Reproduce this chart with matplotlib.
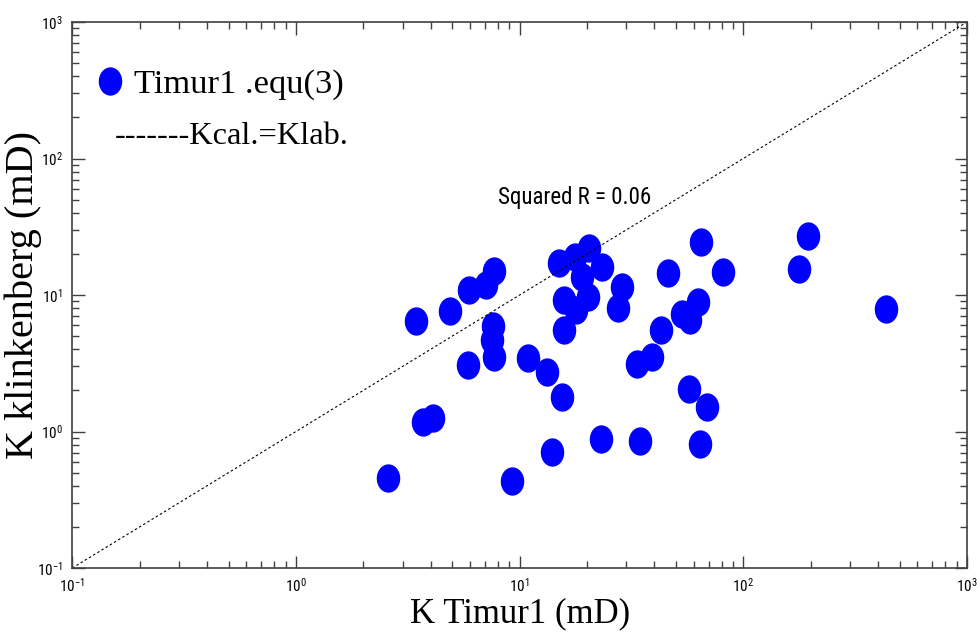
import matplotlib
matplotlib.use("Agg")
import matplotlib.pyplot as plt
from matplotlib.path import Path
from matplotlib.transforms import Affine2D
from matplotlib import font_manager
from matplotlib.font_manager import FontProperties

# Permeability: model estimate (x) vs. Klinkenberg-corrected lab value (y), mD
k_timur = [2.58, 3.44, 3.70, 4.10, 4.88, 5.87, 5.93, 7.07, 7.68, 7.60,
           7.52, 7.68, 9.24, 10.9, 13.2, 13.9, 15.0, 15.5, 15.8, 15.8,
           17.7, 19.0, 17.9, 20.2, 20.4, 23.3, 23.1, 27.5, 28.7, 33.4,
           34.5, 39.0, 42.8, 46.0, 53.2, 57.1, 57.7, 62.7, 64.0, 64.6,
           68.7, 81.1, 177.0, 194.0, 434.0]
k_klink = [0.46, 6.45, 1.17, 1.26, 7.63, 3.07, 10.9, 11.8, 15.0, 5.93,
           4.68, 3.51, 0.434, 3.45, 2.73, 0.708, 17.2, 1.79, 9.19, 5.54,
           19.0, 13.6, 7.77, 9.67, 22.1, 16.0, 0.881, 8.03, 11.4, 3.12,
           0.851, 3.51, 5.54, 14.5, 7.26, 2.05, 6.56, 8.89, 0.810, 24.4,
           1.51, 14.7, 15.5, 27.1, 7.89]
axis_range = [0.1, 1000.0]
r_squared = 0.06


def pick_narrow_font():
    """Return a condensed sans family if one is installed, else None."""
    for fam in ["Liberation Sans Narrow", "DejaVu Sans Condensed",
                "Roboto Condensed", "Open Sans Condensed"]:
        try:
            font_manager.findfont(FontProperties(family=fam),
                                  fallback_to_default=False)
            return fam
        except ValueError:
            pass
    return None


narrow = pick_narrow_font()
small_family = narrow if narrow else "DejaVu Sans"

plt.rcParams["mathtext.fontset"] = "custom"
plt.rcParams["mathtext.rm"] = small_family
plt.rcParams["mathtext.default"] = "regular"

# slightly upright ellipse used as the scatter marker
ellipse = Path.unit_circle().transformed(Affine2D().scale(0.82, 1.0))

fig = plt.figure(figsize=(9.78, 6.38), dpi=100)
ax = fig.add_axes([0.0739, 0.1097, 0.9148, 0.8558])

pts, = ax.plot(k_timur, k_klink, linestyle="none", marker=ellipse,
               markersize=19.4, markerfacecolor="#0000ff",
               markeredgecolor="#0000ff", label="Timur1 .equ(3)")
ax.plot(axis_range, axis_range, color="black", linewidth=0.8,
        linestyle=(0, (2.2, 2.2)))

ax.set_xscale("log")
ax.set_yscale("log")
ax.set_xlim(axis_range)
ax.set_ylim(axis_range)

for side in ax.spines.values():
    side.set_color("#404040")
    side.set_linewidth(1.2)
ax.tick_params(which="both", direction="in", top=True, right=True,
               colors="#404040", labelcolor="black")
ax.tick_params(which="major", length=9, width=1.0)
ax.tick_params(which="minor", length=5, width=1.0)
ax.tick_params(axis="x", which="major", pad=6)
ax.tick_params(axis="y", which="major", pad=7)
for lab in ax.get_xticklabels() + ax.get_yticklabels():
    lab.set_fontfamily(small_family)
    lab.set_fontsize(11 if narrow else 9.5)

serif = "Liberation Serif"
ax.set_xlabel("K Timur1 (mD)", family=serif, fontsize=25, labelpad=2)
ax.set_ylabel("K klinkenberg (mD)", family=serif, fontsize=29)
ax.yaxis.set_label_coords(-0.034, 0.5)

ax.legend(handles=[pts], loc="center left", bbox_to_anchor=(0.0254, 0.886),
          frameon=False, borderpad=0, borderaxespad=0, handlelength=0.9,
          handletextpad=0.24, prop={"family": serif, "size": 24.8})
ax.text(0.0477, 0.791, "-------Kcal.=Klab.", transform=ax.transAxes,
        family=serif, fontsize=23.3, va="center", ha="left")
ax.text(0.4758, 0.6795, f"Squared R = {r_squared:.2f}", transform=ax.transAxes,
        family=small_family, fontsize=16.5 if narrow else 12.6,
        va="center", ha="left")

fig.savefig("out.png", dpi=100)
